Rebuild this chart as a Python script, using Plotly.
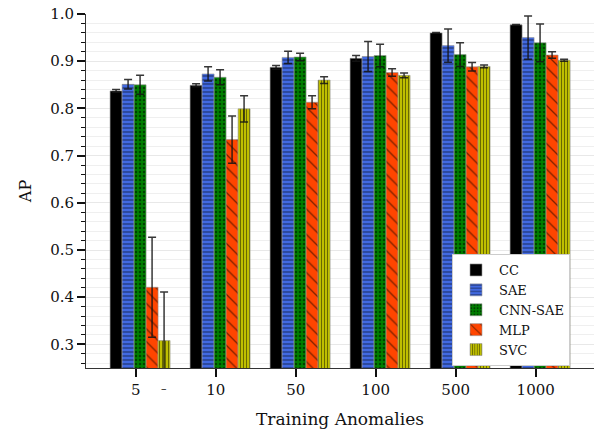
import plotly.graph_objects as go

groups = ["5", "10", "50", "100", "500", "1000"]
methods = ["CC", "SAE", "CNN-SAE", "MLP", "SVC"]

cc_ap = [0.837, 0.849, 0.887, 0.906, 0.960, 0.977]
cc_err = [0.003, 0.003, 0.004, 0.006, 0.001, 0.001]
sae_ap = [0.851, 0.873, 0.908, 0.910, 0.933, 0.950]
sae_err = [0.010, 0.015, 0.013, 0.032, 0.035, 0.046]
cnn_ap = [0.850, 0.866, 0.909, 0.912, 0.914, 0.939]
cnn_err = [0.020, 0.016, 0.008, 0.024, 0.025, 0.040]
mlp_ap = [0.421, 0.734, 0.813, 0.876, 0.888, 0.913]
mlp_err = [0.106, 0.050, 0.014, 0.008, 0.009, 0.007]
svc_ap = [0.308, 0.799, 0.860, 0.870, 0.889, 0.902]
svc_err = [0.103, 0.028, 0.007, 0.005, 0.003, 0.002]

values = [cc_ap, sae_ap, cnn_ap, mlp_ap, svc_ap]
errors = [cc_err, sae_err, cnn_err, mlp_err, svc_err]
colors = ["#000000", "#4169e1", "#008000", "#ff4500", "#bfbf00"]
patterns = ["", "-", ".", "\\", "|"]
pattern_sizes = [8, 4, 4, 9, 3]
pattern_solidity = [0.3, 0.3, 0.3, 0.15, 0.3]
offsets = [-0.245, -0.095, 0.055, 0.205, 0.355]
bar_width = 0.15

FONT = "DejaVu Serif"

fig = go.Figure()
for k, m in enumerate(methods):
    xs = [i + offsets[k] for i in range(len(groups))]
    pat = dict(shape=patterns[k], fgcolor="#000000", size=pattern_sizes[k],
               solidity=pattern_solidity[k], fillmode="overlay") if patterns[k] else dict(shape="")
    fig.add_trace(go.Bar(
        x=xs, y=values[k], width=bar_width, name=m,
        marker=dict(color=colors[k], line=dict(color="rgba(150,150,150,0.6)", width=1),
                    pattern=pat),
        error_y=dict(type="data", array=errors[k], visible=True,
                     color="rgba(20,20,20,0.85)", thickness=1.5, width=4),
    ))

fig.add_annotation(x=offsets[4], y=-0.0565, xref="x", yref="paper", text="–",
                   showarrow=False, font=dict(family=FONT, size=11, color="#111"),
                   yanchor="middle")

fig.update_layout(
    width=600, height=431,
    margin=dict(l=86, r=6, t=14, b=63),
    barmode="overlay",
    plot_bgcolor="white", paper_bgcolor="white",
    font=dict(family=FONT, size=15, color="#111"),
    showlegend=True,
    legend=dict(x=0.7205, y=0.322, xanchor="left", yanchor="top",
                bgcolor="white", bordercolor="#cccccc", borderwidth=1,
                font=dict(family=FONT, size=13, color="#111"),
                itemwidth=36, tracegroupgap=0),
    xaxis=dict(range=[-0.621, 5.729], tickvals=list(range(len(groups))), ticktext=groups,
               automargin=False,
               showline=True, linecolor="#333", linewidth=1, ticks="outside",
               ticklen=8, tickwidth=1.5, tickcolor="#111", showgrid=False, zeroline=False,
               title=dict(text="Training Anomalies", font=dict(family=FONT, size=17), standoff=15),
               tickfont=dict(family=FONT, size=15)),
    yaxis=dict(range=[0.25, 1.0], tickvals=[0.3, 0.4, 0.5, 0.6, 0.7, 0.8, 0.9, 1.0],
               ticktext=["0.3", "0.4", "0.5", "0.6", "0.7", "0.8", "0.9", "1.0"],
               automargin=False,
               showline=True, linecolor="#333", linewidth=1, ticks="outside",
               ticklen=8, tickwidth=1.5, tickcolor="#111",
               showgrid=True, gridcolor="#e8e8e8", gridwidth=1, zeroline=False,
               minor=dict(dtick=0.02, tick0=0.0, ticks="outside", ticklen=4, tickwidth=1.2,
                          tickcolor="#111", showgrid=True, gridcolor="#efefef", gridwidth=1),
               title=dict(text="AP", font=dict(family=FONT, size=16), standoff=14),
               tickfont=dict(family=FONT, size=15)),
)

fig.write_html("out.html", config={"displayModeBar": False},
               post_script="document.body.style.margin='0';document.body.style.overflow='hidden';")
